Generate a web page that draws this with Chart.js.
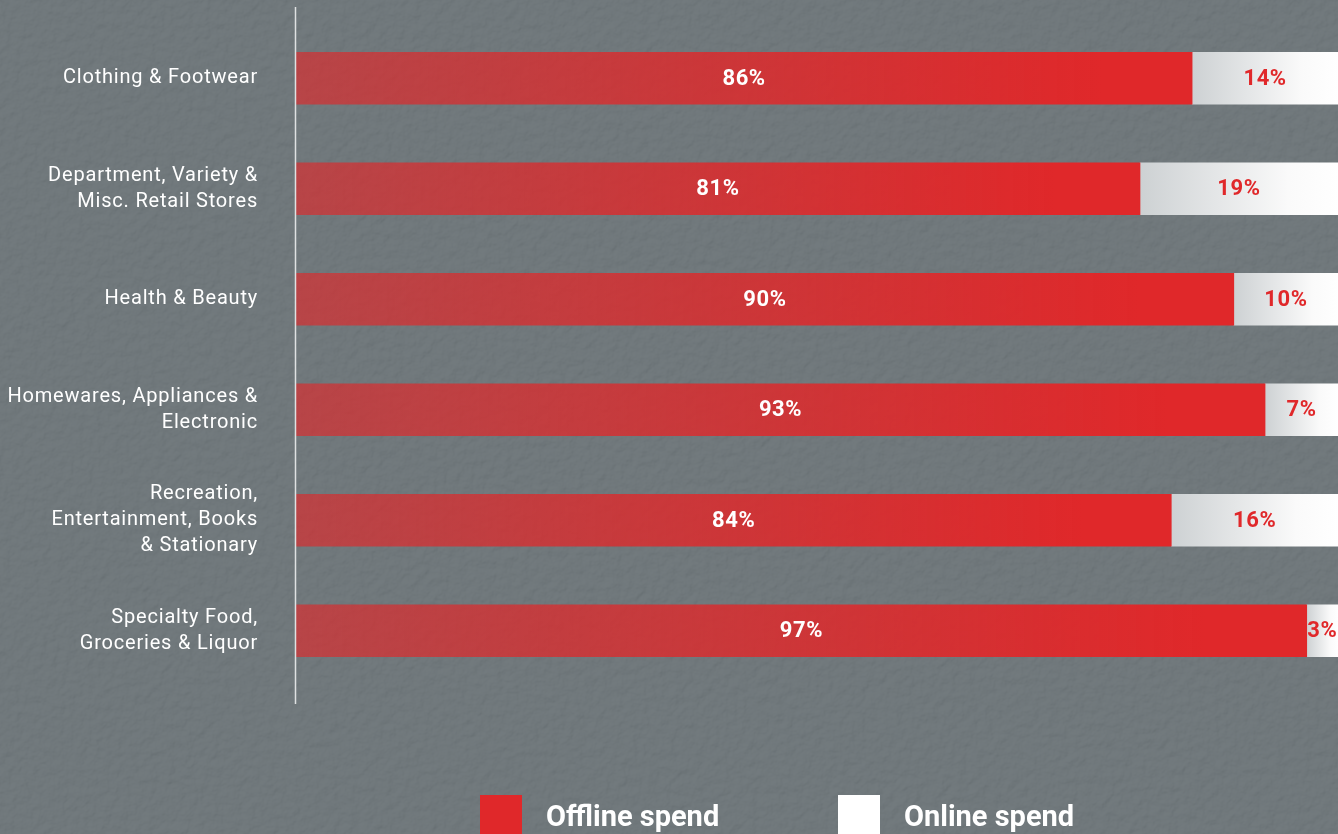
<!DOCTYPE html>
<html>
<head>
<meta charset="utf-8">
<title>Offline vs online spend by category</title>
<script src="https://cdn.jsdelivr.net/npm/chart.js@4.4.1/dist/chart.umd.min.js"></script>
<style>
  html, body { margin: 0; padding: 0; overflow: hidden; }
  body {
    width: 1338px;
    height: 834px;
    position: relative;
    background: #59636a;
    font-family: Roboto, sans-serif;
  }
  /* plaster wall texture */
  #wall {
    position: absolute; inset: 0;
    background-color: #5f686c;
    background-image: url("data:image/svg+xml;utf8,<svg xmlns='http://www.w3.org/2000/svg' width='1338' height='834'><filter id='t'><feTurbulence type='fractalNoise' baseFrequency='0.11' numOctaves='4' seed='7'/><feDiffuseLighting lighting-color='white' surfaceScale='1.8'><feDistantLight azimuth='235' elevation='58'/></feDiffuseLighting></filter><rect width='100%' height='100%' filter='url(%23t)' opacity='0.12'/></svg>");
  }
  #chartBox { position: absolute; left: 0; top: 0; width: 1338px; height: 834px; }
  #legend { position: absolute; left: 480px; top: 795px; display: flex; }
  #legend .item { display: flex; align-items: center; width: 358px; }
  #legend .swatch { width: 42px; height: 42px; margin-right: 24px; }
  #legend .text { color: #fff; font-weight: 700; font-size: 29px; line-height: 42px; }
</style>
</head>
<body>
<div id="wall"></div>
<div id="chartBox"><canvas id="spendChart"></canvas></div>
<div id="legend"></div>

<script>
const categories = [
    'Clothing & Footwear',
    ['Department, Variety &', 'Misc. Retail Stores'],
    'Health & Beauty',
    ['Homewares, Appliances &', 'Electronic'],
    ['Recreation,', 'Entertainment, Books', '& Stationary'],
    ['Specialty Food,', 'Groceries & Liquor']
];
const offlineSpend = [86, 81, 90, 93, 84, 97];
const onlineSpend = [14, 19, 10, 7, 16, 3];

const RED = '#e0282a';

// horizontal gradient across one stacked segment, from its start value to its end value
function segmentFill(startVals, endVals, stops, fallback) {
    return (c) => {
        const chart = c.chart;
        const x = chart.scales.x;
        if (!x || !chart.chartArea || c.type !== 'data') return fallback;
        const x0 = x.getPixelForValue(startVals[c.dataIndex]);
        const x1 = x.getPixelForValue(endVals[c.dataIndex]);
        if (!isFinite(x0) || !isFinite(x1) || x1 <= x0) return fallback;
        const g = chart.ctx.createLinearGradient(x0, 0, x1, 0);
        stops.forEach(([pos, col]) => g.addColorStop(pos, col));
        return g;
    };
}

const zeros = offlineSpend.map(() => 0);
const totals = offlineSpend.map(() => 100);

// wider tracking for all canvas text
const tracking = {
    id: 'tracking',
    beforeDraw(chart) { chart.ctx.letterSpacing = '0.8px'; }
};

const valueLabels = {
    id: 'valueLabels',
    afterDatasetsDraw(chart) {
        const ctx = chart.ctx;
        ctx.save();
        ctx.letterSpacing = '0.6px';
        ctx.font = 'bold 22px Roboto';
        ctx.textAlign = 'center';
        ctx.textBaseline = 'middle';
        chart.data.datasets.forEach((ds, i) => {
            ctx.fillStyle = ds.labelColor;
            chart.getDatasetMeta(i).data.forEach((bar, j) => {
                ctx.fillText(ds.data[j] + '%', (bar.x + bar.base) / 2, bar.y + 1);
            });
        });
        ctx.restore();
    }
};

// the vertical rule runs a little past the plot area at both ends
const axisRule = {
    id: 'axisRule',
    afterDraw(chart) {
        const { ctx, chartArea } = chart;
        ctx.save();
        ctx.strokeStyle = '#dfe1e2';
        ctx.lineWidth = 1.5;
        ctx.beginPath();
        ctx.moveTo(chartArea.left - 0.5, chartArea.top - 16);
        ctx.lineTo(chartArea.left - 0.5, chartArea.bottom + 18);
        ctx.stroke();
        ctx.restore();
    }
};

const chart = new Chart(document.getElementById('spendChart'), {
    type: 'bar',
    data: {
        labels: categories,
        datasets: [
            {
                label: 'Offline spend',
                data: offlineSpend,
                backgroundColor: segmentFill(zeros, offlineSpend,
                    [[0, 'rgba(224,40,42,0.64)'], [0.55, 'rgba(224,40,42,0.85)'], [0.9, RED], [1, RED]], RED),
                swatch: RED,
                labelColor: '#ffffff',
                barThickness: 52,
                borderWidth: 0
            },
            {
                label: 'Online spend',
                data: onlineSpend,
                backgroundColor: segmentFill(offlineSpend, totals,
                    [[0, '#cdd1d3'], [0.75, '#fafafa'], [1, '#ffffff']], '#ffffff'),
                swatch: '#ffffff',
                labelColor: RED,
                barThickness: 52,
                borderWidth: 0
            }
        ]
    },
    options: {
        indexAxis: 'y',
        responsive: true,
        maintainAspectRatio: false,
        animation: false,
        layout: {
            padding: { top: 23, bottom: 148, left: 0, right: 0 }
        },
        plugins: {
            legend: { display: false },
            tooltip: { enabled: false }
        },
        scales: {
            x: {
                stacked: true,
                display: false,
                min: 0,
                max: 100
            },
            y: {
                stacked: true,
                grid: { display: false, drawTicks: false },
                border: { display: false },
                afterFit: (s) => {
                    s.width = 296;
                    s.paddingTop = 0;
                    s.paddingBottom = 0;
                },
                ticks: {
                    color: '#ffffff',
                    padding: 38,
                    font: { family: 'Roboto', size: 20, lineHeight: 1.3 }
                }
            }
        }
    },
    plugins: [tracking, valueLabels, axisRule]
});

// legend row under the chart
const legendEl = document.getElementById('legend');
chart.data.datasets.forEach(ds => {
    const item = document.createElement('div');
    item.className = 'item';
    item.innerHTML = '<span class="swatch" style="background:' + ds.swatch + '"></span>' +
        '<span class="text">' + ds.label + '</span>';
    legendEl.appendChild(item);
});
</script>
</body>
</html>
